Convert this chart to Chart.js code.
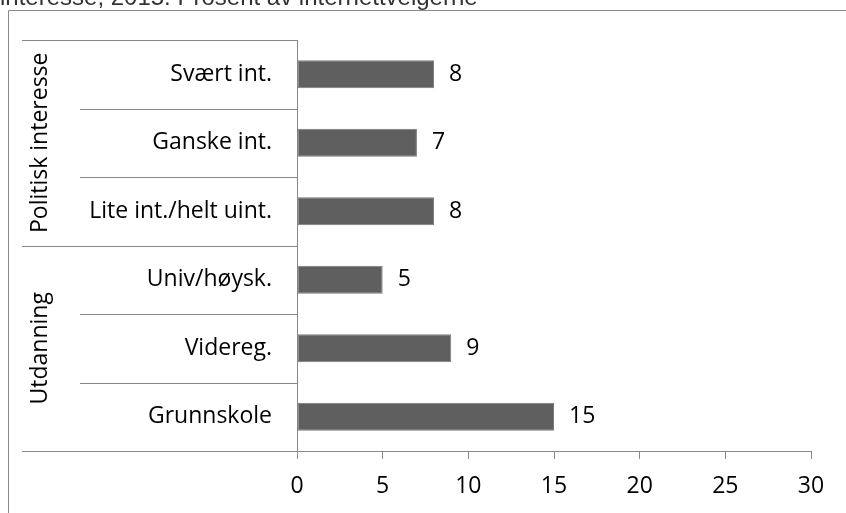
<!DOCTYPE html>
<html>
<head>
<meta charset="utf-8">
<script src="https://cdn.jsdelivr.net/npm/chart.js@4"></script>
<style>
  html, body { margin: 0; padding: 0; background: #fff; }
  canvas { display: block; }
</style>
</head>
<body>
<canvas id="chart" width="846" height="513"></canvas>
<script>
const titleText = 'interesse, 2015. Prosent av internettvelgerne';
const categories = ['Svært int.', 'Ganske int.', 'Lite int./helt uint.', 'Univ/høysk.', 'Videreg.', 'Grunnskole'];
const values = [8, 7, 8, 5, 9, 15];
const groupNames = ['Politisk interesse', 'Utdanning'];
const groupSizes = [3, 3];
const xTicks = [0, 5, 10, 15, 20, 25, 30];

const fontFamily = '"Open Sans", "Noto Sans", sans-serif';
const fontSize = 23;
const lineColor = '#898989';
const barColor = '#5f5f5f';

// ramme, tittel, skillelinjer, gruppetekster og verdietiketter
const decorPlugin = {
    id: 'decor',
    beforeDraw(chart) {
        const ctx = chart.ctx;
        ctx.save();
        ctx.fillStyle = '#333';
        ctx.font = '24px "Liberation Sans", Arial, sans-serif';
        ctx.textBaseline = 'alphabetic';
        ctx.fillText(titleText, 0, 5);

        ctx.strokeStyle = lineColor;
        ctx.lineWidth = 1;
        ctx.beginPath();
        ctx.moveTo(8.5, 513);
        ctx.lineTo(8.5, 10.5);
        ctx.lineTo(846, 10.5);
        ctx.stroke();
        ctx.restore();
    },
    afterDraw(chart) {
        const ctx = chart.ctx;
        const y = chart.scales.y;
        const area = chart.chartArea;
        const step = y.getPixelForValue(1) - y.getPixelForValue(0);

        const groupEnds = new Set([0]);
        let acc = 0;
        groupSizes.forEach(n => { acc += n; groupEnds.add(acc); });

        ctx.save();
        ctx.strokeStyle = lineColor;
        ctx.lineWidth = 1;
        for (let i = 0; i <= categories.length; i++) {
            const py = Math.round(y.getPixelForValue(i) - step / 2) + 0.5;
            ctx.beginPath();
            ctx.moveTo(groupEnds.has(i) ? 22 : 80, py);
            ctx.lineTo(area.left, py);
            ctx.stroke();
        }

        ctx.fillStyle = '#000';
        ctx.font = `${fontSize}px ${fontFamily}`;
        ctx.textAlign = 'center';
        ctx.textBaseline = 'middle';
        let start = 0;
        groupNames.forEach((name, g) => {
            const top = y.getPixelForValue(start) - step / 2;
            const bottom = y.getPixelForValue(start + groupSizes[g] - 1) + step / 2;
            ctx.save();
            ctx.translate(40, (top + bottom) / 2);
            ctx.rotate(-Math.PI / 2);
            ctx.fillText(name, 0, 0);
            ctx.restore();
            start += groupSizes[g];
        });

        ctx.textAlign = 'left';
        chart.getDatasetMeta(0).data.forEach((bar, i) => {
            ctx.fillText(String(values[i]), bar.x + 15, bar.y);
        });
        ctx.restore();
    }
};

new Chart(document.getElementById('chart').getContext('2d'), {
    type: 'bar',
    data: {
        labels: categories,
        datasets: [{
            data: values,
            backgroundColor: barColor,
            borderColor: '#7a7a7a',
            borderWidth: 1,
            borderSkipped: false,
            categoryPercentage: 1,
            barPercentage: 0.41
        }]
    },
    options: {
        indexAxis: 'y',
        responsive: false,
        animation: false,
        devicePixelRatio: 1,
        layout: { padding: { top: 40, right: 35, left: 0, bottom: 0 } },
        plugins: {
            legend: { display: false },
            tooltip: { enabled: false }
        },
        scales: {
            x: {
                min: 0,
                max: 30,
                afterBuildTicks: scale => { scale.ticks = xTicks.map(v => ({ value: v })); },
                afterFit: scale => { scale.height = 62; },
                grid: {
                    drawOnChartArea: false,
                    drawTicks: true,
                    tickLength: 8,
                    color: lineColor
                },
                border: { color: lineColor },
                ticks: {
                    color: '#000',
                    font: { family: fontFamily, size: fontSize },
                    padding: 14,
                    maxRotation: 0
                }
            },
            y: {
                afterFit: scale => { scale.width = 297; },
                grid: { display: false, drawTicks: false },
                border: { display: true, color: lineColor },
                ticks: {
                    color: '#000',
                    font: { family: fontFamily, size: fontSize },
                    padding: 25
                }
            }
        }
    },
    plugins: [decorPlugin]
});
</script>
</body>
</html>
